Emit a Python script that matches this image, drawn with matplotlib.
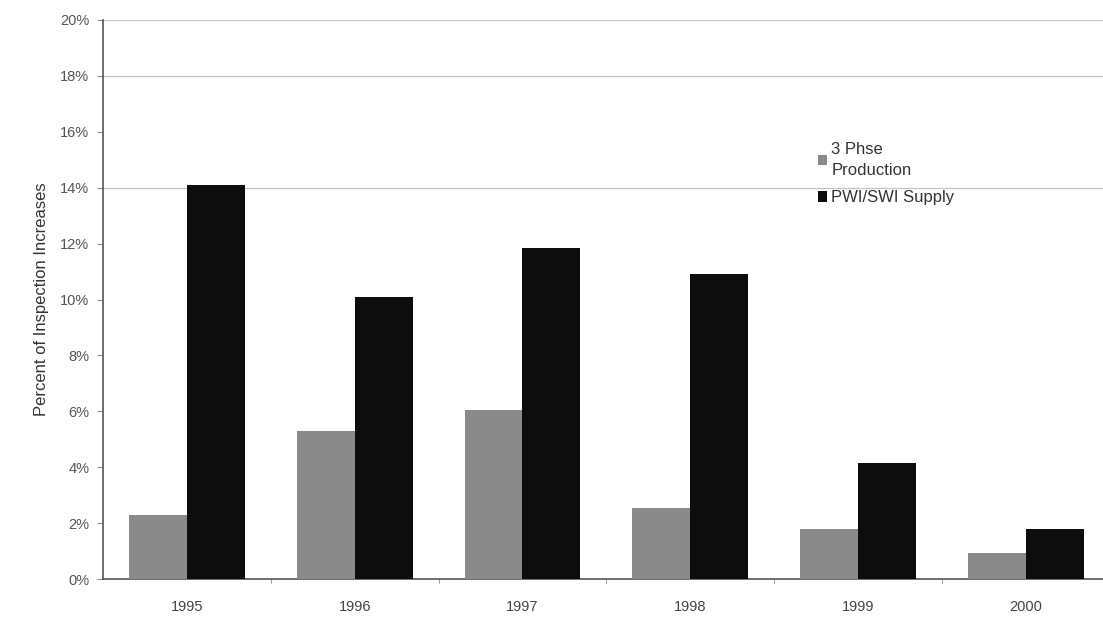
import matplotlib
matplotlib.use("Agg")
import matplotlib.pyplot as plt
import numpy as np
from matplotlib.ticker import PercentFormatter

years = ["1995", "1996", "1997", "1998", "1999", "2000"]
three_phase = [2.3, 5.3, 6.05, 2.55, 1.8, 0.93]
pwi_swi = [14.1, 10.1, 11.85, 10.9, 4.15, 1.8]
series_names = ["3 Phse\nProduction", "PWI/SWI Supply"]

plt.rcParams['font.family'] = ['Liberation Sans', 'DejaVu Sans']

fig = plt.figure(figsize=(11.03, 6.19), dpi=100)
ax = fig.add_axes([0.0934, 0.0646, 0.9066, 0.9031])

x = np.arange(len(years))
w = 0.345
ax.bar(x - w/2, three_phase, w, color='#8a8a8a', label=series_names[0], zorder=3)
ax.bar(x + w/2, pwi_swi, w, color='#0d0d0d', label=series_names[1], zorder=3)

ax.set_xlim(-0.5, 5.46)
ax.set_ylim(0, 20)
ax.set_yticks(np.arange(0, 21, 2))
ax.yaxis.set_major_formatter(PercentFormatter(decimals=0))
for g in [14, 18, 20]:
    ax.axhline(g, color='#c4c4c4', lw=0.9, zorder=1)

ax.set_xticks(x)
ax.set_xticklabels(years)
ax.set_xticks(np.arange(0.5, 5.5, 1), minor=True)
ax.tick_params(axis='x', which='major', length=0, pad=15, labelsize=10.5, labelcolor='#444444')
ax.tick_params(axis='x', which='minor', length=3, color='#888888')
ax.tick_params(axis='y', length=4, color='#888888', pad=6, labelsize=10.5, labelcolor='#555555')

for s in ['top', 'right']:
    ax.spines[s].set_visible(False)
ax.spines['left'].set_color('#555555')
ax.spines['bottom'].set_color('#555555')
ax.spines['left'].set_linewidth(1.2)
ax.spines['bottom'].set_linewidth(1.2)

ax.set_ylabel("Percent of Inspection Increases", fontsize=12, color='#333333', labelpad=8)

leg = fig.legend(loc='upper left', bbox_to_anchor=(0.728, 0.795), frameon=False,
                 fontsize=12, handlelength=0.55, handleheight=0.55, handletextpad=0.25,
                 labelspacing=0.75, labelcolor='#333333')
for t in leg.get_texts():
    t.set_linespacing(1.5)

fig.savefig("out.png", dpi=100)
